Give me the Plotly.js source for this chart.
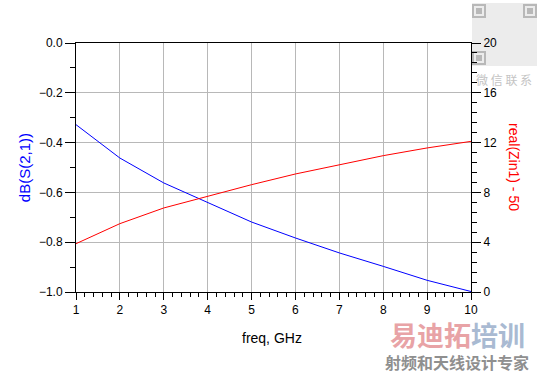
<!DOCTYPE html>
<html>
<head>
<meta charset="utf-8">
<script src="https://cdn.plot.ly/plotly-3.0.1.min.js"></script>
<style>html,body{margin:0;padding:0;background:#fff;}#chart{width:541px;height:374px;}</style>
</head>
<body>
<div id="chart"></div>
<script>
const freq = [1, 2, 3, 4, 5, 6, 7, 8, 9, 10];
const dbS21 = [-0.328, -0.462, -0.562, -0.642, -0.719, -0.783, -0.843, -0.897, -0.953, -0.998];
const realZinMinus50 = [3.88, 5.49, 6.75, 7.68, 8.62, 9.48, 10.2, 10.95, 11.57, 12.1];
const leftTitle = "dB(S(2,1))";
const rightTitle = "real(Zin1) - 50";
const xTitle = "freq, GHz";

const FONT = "Liberation Sans, Arial, sans-serif";
const traces = [
  {x: freq, y: dbS21, type: 'scatter', mode: 'lines', line: {color: '#0000ff', width: 1}, yaxis: 'y', hoverinfo: 'skip'},
  {x: freq, y: realZinMinus50, type: 'scatter', mode: 'lines', line: {color: '#ff0000', width: 1}, yaxis: 'y2', hoverinfo: 'skip'}
];
// paper coordinate helpers for decorative watermark (plot area: x 76..471, y 43..292)
const px = x => (x - 76) / 395;
const py = y => (292 - y) / 249;
function sq(x0, y0, s, col, fill) {
  return {type: 'rect', xref: 'paper', yref: 'paper', x0: px(x0), x1: px(x0 + s), y0: py(y0 + s), y1: py(y0),
          line: {color: col, width: 2}, fillcolor: fill || 'rgba(0,0,0,0)', layer: 'below'};
}
const shapes = [
  {type: 'rect', xref: 'paper', yref: 'paper', x0: px(472), x1: px(537), y0: py(66), y1: py(3),
   line: {width: 0}, fillcolor: '#ececec', layer: 'below'},
  sq(473, 5, 12, '#b8b8b8'), sq(524, 5, 12, '#b8b8b8'), sq(473, 52, 12, '#b8b8b8'),
  sq(477, 9, 4, '#b8b8b8', '#b8b8b8'), sq(528, 9, 4, '#b8b8b8', '#b8b8b8'), sq(477, 56, 4, '#b8b8b8', '#b8b8b8')
];
const layout = {
  width: 541, height: 374,
  margin: {l: 76, r: 70, t: 43, b: 82},
  paper_bgcolor: '#ffffff', plot_bgcolor: 'rgba(0,0,0,0)',
  showlegend: false,
  font: {family: FONT, size: 12, color: '#000'},
  shapes: shapes,
  xaxis: {
    range: [1, 10], dtick: 1, tick0: 1, ticks: 'outside', ticklen: 7, tickcolor: '#000', tickwidth: 1,
    showline: true, linecolor: '#000', linewidth: 1, mirror: true,
    showgrid: true, gridcolor: '#b8b8b8', gridwidth: 1, zeroline: false,
    minor: {dtick: 0.2, ticks: 'outside', ticklen: 4, tickcolor: '#000', showgrid: false},
    tickfont: {family: FONT, size: 12, color: '#000'}
  },
  yaxis: {
    range: [-1, 0], dtick: 0.2, tick0: 0, tickformat: '.1f', ticks: 'outside', ticklen: 10, tickcolor: '#000',
    showline: true, linecolor: '#000', linewidth: 1,
    showgrid: true, gridcolor: '#b8b8b8', gridwidth: 1, zeroline: false,
    minor: {dtick: 0.1, ticks: 'outside', ticklen: 5, tickcolor: '#000', showgrid: false},
    tickfont: {family: FONT, size: 12, color: '#000'}
  },
  yaxis2: {
    range: [0, 20], dtick: 4, tick0: 0, ticks: 'outside', ticklen: 9, tickcolor: '#000',
    overlaying: 'y', side: 'right',
    showline: true, linecolor: '#000', linewidth: 1,
    showgrid: false, zeroline: false,
    minor: {dtick: 0.8, ticks: 'outside', ticklen: 5, tickcolor: '#000', showgrid: false},
    tickfont: {family: FONT, size: 12, color: '#000'}
  },
  annotations: [
    {text: leftTitle, xref: 'paper', yref: 'paper', x: -0.13, y: 0.5, xanchor: 'center', yanchor: 'middle',
     textangle: -90, showarrow: false, font: {family: FONT, size: 15, color: '#0000ff'}},
    {text: rightTitle, xref: 'paper', yref: 'paper', x: 1.11, y: 0.5, xanchor: 'center', yanchor: 'middle',
     textangle: 90, showarrow: false, font: {family: FONT, size: 14, color: '#ff0000'}},
    {text: xTitle, xref: 'paper', yref: 'paper', x: 0.497, y: -0.185, xanchor: 'center', yanchor: 'middle',
     showarrow: false, font: {family: FONT, size: 14, color: '#000'}},
    {text: '<b>易迪拓</b><b><span style="color:#a9bad2">培训</span></b>', xref: 'paper', yref: 'paper', x: 0.965, y: -0.17,
     xanchor: 'center', yanchor: 'middle', showarrow: false,
     font: {family: 'Noto Sans CJK SC', size: 27, color: '#e8a3a6'}},
    {text: '<b>射频和天线设计专家</b>', xref: 'paper', yref: 'paper', x: 0.965, y: -0.28,
     xanchor: 'center', yanchor: 'middle', showarrow: false,
     font: {family: 'Noto Sans CJK SC', size: 16, color: '#8f8f8f'}},
    {text: '微 信 联 系', xref: 'paper', yref: 'paper', x: px(504), y: py(79),
     xanchor: 'center', yanchor: 'middle', showarrow: false,
     font: {family: 'Noto Sans CJK SC', size: 12, color: '#c4c4c4'}}
  ]
};
Plotly.newPlot('chart', traces, layout, {staticPlot: true, displayModeBar: false});
</script>
</body>
</html>
